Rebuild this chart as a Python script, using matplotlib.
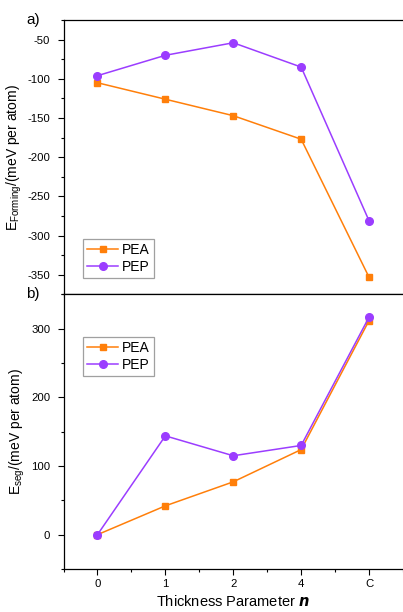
import matplotlib
matplotlib.use("Agg")
import matplotlib.pyplot as plt
from matplotlib.ticker import MultipleLocator

plt.rcParams["font.family"] = ["Liberation Sans", "DejaVu Sans"]
plt.rcParams["axes.unicode_minus"] = False

# data
categories = ["0", "1", "2", "4", "C"]
forming_pea = [-105, -126, -147, -177, -353]
forming_pep = [-96, -70, -54, -85, -281]
seg_pea = [0, 42, 77, 124, 312]
seg_pep = [0, 144, 115, 130, 317]

orange = "#FF7F0A"
purple = "#9B3DFF"

fig = plt.figure(figsize=(4.03, 6.12), dpi=100)
ax_top = fig.add_axes([0.1576, 0.5188, 0.8424, 0.4485])
ax_bot = fig.add_axes([0.1576, 0.0703, 0.8424, 0.4485])

x = list(range(len(categories)))


def style_axes(ax):
    ax.spines["right"].set_visible(False)
    for side in ("top", "left", "bottom"):
        ax.spines[side].set_linewidth(0.9)
    ax.tick_params(which="both", direction="out", labelsize=8.2, width=0.8, top=False, right=False)
    ax.tick_params(which="major", length=4)
    ax.tick_params(which="minor", length=2.5)
    ax.tick_params(axis="y", pad=5.5)
    ax.set_xlim(-0.5, 4.5)
    ax.set_xticks(x)
    ax.xaxis.set_minor_locator(MultipleLocator(0.5))


def add_legend(ax, loc, anchor):
    leg = ax.legend(loc=loc, bbox_to_anchor=anchor, fontsize=10, frameon=True,
                    fancybox=False, handlelength=2.2, borderpad=0.3, labelspacing=0.2,
                    handletextpad=0.3, borderaxespad=0)
    leg.get_frame().set_edgecolor("#888888")
    leg.get_frame().set_linewidth(0.9)


ax_top.plot(x, forming_pea, color=orange, marker="s", markersize=5, linewidth=1.1, label="PEA")
ax_top.plot(x, forming_pep, color=purple, marker="o", markersize=5.5, linewidth=1.1, label="PEP")
style_axes(ax_top)
ax_top.set_ylim(-375, -25)
ax_top.yaxis.set_major_locator(MultipleLocator(50))
ax_top.yaxis.set_minor_locator(MultipleLocator(25))
ax_top.set_xticklabels([])
ax_top.set_ylabel(r"E$_{\mathregular{Forming}}$/(meV per atom)", fontsize=10, va="center")
ax_top.yaxis.set_label_coords(-0.145, 0.5)
add_legend(ax_top, "lower left", (0.058, 0.06))

ax_bot.plot(x, seg_pea, color=orange, marker="s", markersize=5, linewidth=1.1, label="PEA")
ax_bot.plot(x, seg_pep, color=purple, marker="o", markersize=5.5, linewidth=1.1, label="PEP")
style_axes(ax_bot)
ax_bot.set_ylim(-50, 350)
ax_bot.yaxis.set_major_locator(MultipleLocator(100))
ax_bot.yaxis.set_minor_locator(MultipleLocator(50))
ax_bot.set_xticklabels(categories)
ax_bot.set_ylabel(r"E$_{\mathregular{seg}}$/(meV per atom)", fontsize=10, va="center")
ax_bot.yaxis.set_label_coords(-0.135, 0.5)
ax_bot.set_xlabel(r"Thickness Parameter $\boldsymbol{n}$", fontsize=10.5, labelpad=3)
add_legend(ax_bot, "upper left", (0.058, 0.845))

fig.text(26 / 403, 1 - 20 / 612, "a)", fontsize=11, va="center", ha="left")
fig.text(26 / 403, 1 - 294 / 612, "b)", fontsize=11, va="center", ha="left")

fig.savefig("out.png", dpi=100)
